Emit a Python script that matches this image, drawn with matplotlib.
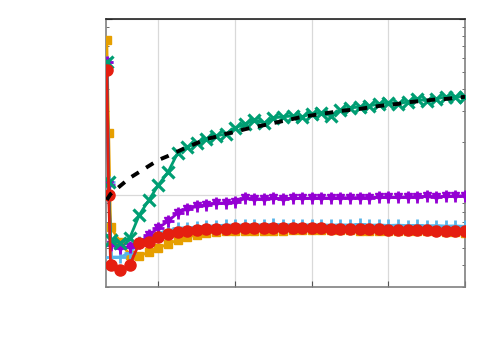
import matplotlib
matplotlib.use("Agg")
import matplotlib.pyplot as plt
from matplotlib.ticker import LogLocator, NullFormatter, FixedLocator

# x positions: two early samples, then one per step
x_early = [0.6, 0.8]
x_steps = list(range(1, 39))
x_all = x_early + x_steps
x_ref = [0.6] + x_steps

orange_sq = [7.60, 2.25, 0.658, 0.541, 0.456, 0.450, 0.474, 0.500, 0.527, 0.555,
             0.577, 0.592, 0.608, 0.616, 0.620, 0.624, 0.625, 0.626, 0.627, 0.628,
             0.628, 0.629, 0.629, 0.630, 0.630, 0.630, 0.629, 0.629, 0.628, 0.628,
             0.627, 0.627, 0.626, 0.625, 0.624, 0.622, 0.620, 0.617, 0.614, 0.610]
red_circ = [5.13, 1.00, 0.400, 0.375, 0.400, 0.534, 0.541, 0.577, 0.600, 0.616,
            0.624, 0.633, 0.637, 0.641, 0.644, 0.646, 0.648, 0.650, 0.650, 0.650,
            0.648, 0.648, 0.647, 0.646, 0.645, 0.644, 0.643, 0.642, 0.640, 0.639,
            0.637, 0.636, 0.634, 0.632, 0.630, 0.629, 0.627, 0.626, 0.624, 0.620]
blue_plus = [5.70, 1.19, 0.444, 0.444, 0.468, 0.541, 0.577, 0.608, 0.624, 0.650,
             0.650, 0.658, 0.667, 0.667, 0.675, 0.675, 0.675, 0.678, 0.676, 0.680,
             0.677, 0.679, 0.675, 0.678, 0.676, 0.674, 0.677, 0.675, 0.680, 0.673,
             0.676, 0.671, 0.674, 0.670, 0.672, 0.668, 0.670, 0.666, 0.667, 0.663]
purple_tri = [5.70, 1.14, 0.520, 0.500, 0.507, 0.534, 0.592, 0.650, 0.710, 0.790,
              0.833, 0.860, 0.877, 0.895, 0.901, 0.906, 0.955, 0.949, 0.950, 0.955,
              0.953, 0.958, 0.955, 0.960, 0.962, 0.958, 0.965, 0.963, 0.967, 0.965,
              0.970, 0.972, 0.968, 0.975, 0.978, 0.980, 0.972, 0.982, 0.985, 0.990]
green_x = [5.70, 1.19, 0.555, 0.534, 0.570, 0.770, 0.937, 1.14, 1.35, 1.73,
           1.87, 1.97, 2.08, 2.16, 2.22, 2.40, 2.53, 2.67, 2.56, 2.74,
           2.78, 2.81, 2.78, 2.89, 2.92, 2.81, 3.04, 3.12, 3.16, 3.20,
           3.29, 3.33, 3.29, 3.38, 3.51, 3.42, 3.51, 3.61, 3.61, 3.61]
ref_fit = [0.937, 1.013, 1.125, 1.249, 1.351, 1.462, 1.58, 1.665, 1.766, 1.87,
           1.97, 2.08, 2.14, 2.22, 2.28, 2.36, 2.43, 2.49, 2.56, 2.63,
           2.70, 2.78, 2.83, 2.89, 2.94, 3.00, 3.04, 3.08, 3.14, 3.20,
           3.25, 3.29, 3.36, 3.40, 3.44, 3.49, 3.51, 3.56, 3.61]

grid_x = [6, 14, 22, 30, 38]

fig = plt.figure(figsize=(5, 3.5), dpi=100)
ax = fig.add_axes([0.212, 0.18, 0.718, 0.766])

ax.plot(x_all, orange_sq, color="#E69F00", lw=2, marker="s", ms=6, zorder=3)
ax.plot(x_all, blue_plus, color="#56B4E9", lw=2, marker="+", ms=8, mew=2, zorder=4)
ax.plot(x_all, purple_tri, color="#9400D3", lw=2, marker="v", ms=6, zorder=5)
ax.plot(x_all, purple_tri, color="#9400D3", lw=0, marker="+", ms=8, mew=2, zorder=5)
ax.plot(x_all, green_x, color="#009E73", lw=2, marker="x", ms=8.5, mew=2.3, zorder=5)
ax.plot(x_all, red_circ, color="#E51E10", lw=2, marker="o", ms=8, zorder=6)
ax.plot(x_ref, ref_fit, color="black", lw=2.8, ls=(0, (2.2, 2.2)), zorder=7)

ax.set_yscale("log")
ax.set_ylim(0.3, 10)
ax.set_xlim(0.52, 38)

ax.xaxis.set_major_locator(FixedLocator(grid_x))
ax.yaxis.set_major_locator(LogLocator(base=10))
ax.yaxis.set_minor_locator(LogLocator(base=10, subs=range(2, 10)))
ax.xaxis.set_major_formatter(NullFormatter())
ax.yaxis.set_major_formatter(NullFormatter())
ax.yaxis.set_minor_formatter(NullFormatter())

ax.tick_params(which="both", direction="in", right=True, top=False, colors="#555555")
ax.tick_params(which="major", length=4, width=0.8)
ax.tick_params(which="minor", length=2.5, width=0.6)
ax.grid(True, which="major", color="#d9d9d9", lw=0.9, zorder=0)
ax.set_axisbelow(True)

for side in ["left", "bottom", "right"]:
    ax.spines[side].set_color("#808080")
    ax.spines[side].set_linewidth(1.2)
ax.spines["top"].set_color("#222222")
ax.spines["top"].set_linewidth(1.2)

fig.savefig("out.png", dpi=100, facecolor="white")
